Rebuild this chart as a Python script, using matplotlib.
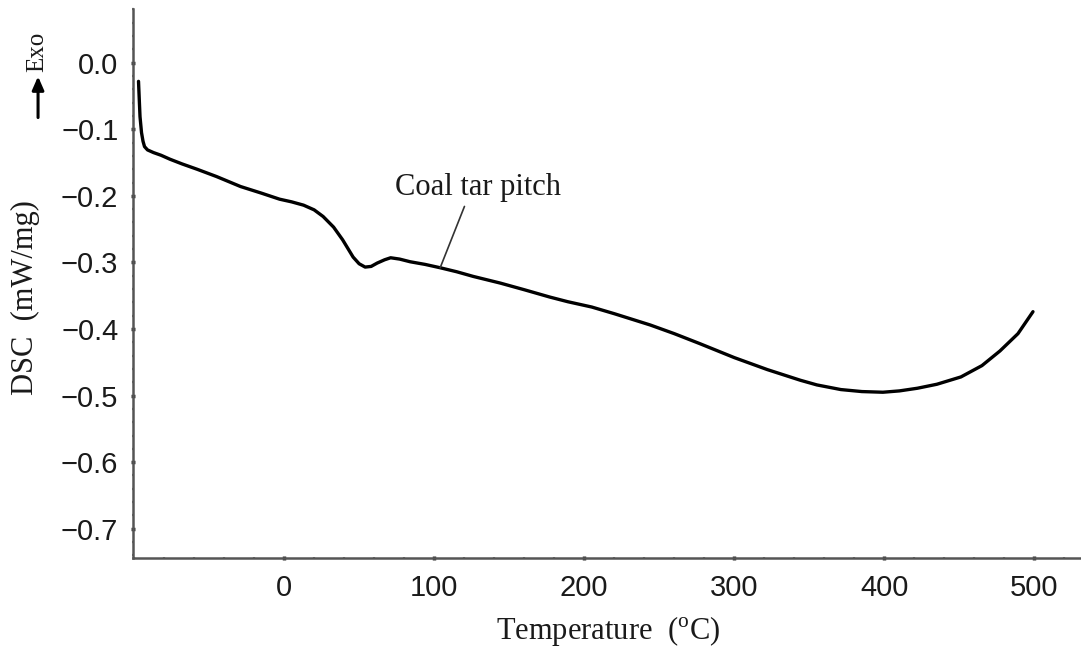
import numpy as np
import matplotlib
matplotlib.use('Agg')
import matplotlib.pyplot as plt
from matplotlib.ticker import MultipleLocator

# DSC trace of coal tar pitch
temperature = [-97, -96.5, -96, -95, -94, -93, -91, -87, -82, -76, -68, -58, -45, -29,
               -15, -3, 5, 13, 20, 26, 33, 39, 46, 50, 54, 58, 62, 67, 71, 77, 84, 94,
               104, 115, 126, 144, 160, 177, 189, 205, 220, 244, 260, 277, 300, 322,
               344, 355, 371, 385, 399, 410, 422, 435, 451, 465, 477, 489, 499]
dsc = [-0.028, -0.055, -0.081, -0.105, -0.118, -0.126, -0.131, -0.135, -0.139, -0.145,
       -0.152, -0.160, -0.171, -0.186, -0.196, -0.205, -0.209, -0.214, -0.221, -0.231,
       -0.247, -0.266, -0.292, -0.302, -0.307, -0.306, -0.301, -0.296, -0.293, -0.295,
       -0.299, -0.303, -0.308, -0.314, -0.321, -0.331, -0.341, -0.352, -0.359, -0.367,
       -0.377, -0.394, -0.407, -0.422, -0.443, -0.461, -0.477, -0.484, -0.491, -0.494,
       -0.495, -0.493, -0.489, -0.483, -0.472, -0.455, -0.433, -0.407, -0.374]

x_ticks = [0, 100, 200, 300, 400, 500]
y_ticks = [0.0, -0.1, -0.2, -0.3, -0.4, -0.5, -0.6, -0.7]

label_name = 'Coal tar pitch'
label_at = (104, -0.308)
label_text_pos = (129, -0.188)

plt.rcParams['mathtext.fontset'] = 'custom'
plt.rcParams['mathtext.rm'] = 'Liberation Serif'

fig = plt.figure(figsize=(10.81, 6.53), dpi=100)
ax = fig.add_axes([0.123, 0.1455, 0.877, 0.840])

ax.plot(temperature, dsc, color='black', lw=2.4, solid_capstyle='round')

ax.set_xlim(-100.7, 531)
ax.set_ylim(-0.744, 0.080)

ax.set_xticks(x_ticks)
ax.set_yticks(y_ticks)
ax.set_yticklabels([f'{v:.1f}'.replace('-', '\u2212') for v in y_ticks])
ax.xaxis.set_minor_locator(MultipleLocator(20))
ax.yaxis.set_minor_locator(MultipleLocator(0.02))

for side in ['top', 'right']:
    ax.spines[side].set_visible(False)
for side in ['left', 'bottom']:
    ax.spines[side].set_color('#555555')
    ax.spines[side].set_linewidth(1.8)

ax.tick_params(which='major', direction='inout', length=3, width=2.5, color='#333333')
ax.tick_params(which='minor', direction='inout', length=2, width=1.6, color='#777777')
ax.tick_params(axis='y', which='major', pad=9)
ax.tick_params(axis='x', which='major', pad=10)
for lbl in ax.get_xticklabels() + ax.get_yticklabels():
    lbl.set_fontfamily('Liberation Sans')
    lbl.set_fontsize(21)
    lbl.set_color('#1a1a1a')

# curve label with leader line
ax.annotate(label_name, xy=label_at, xytext=label_text_pos,
            ha='center', va='center', fontsize=22, family='Liberation Serif',
            color='#1a1a1a',
            arrowprops=dict(arrowstyle='-', color='#333333', lw=1.2,
                            relpos=(0.43, 0.0), shrinkA=1, shrinkB=0))

# axis titles
fig.text(0.5624, 0.034, r'Temperature  ($^{\rm o}$C)', ha='center', va='center',
         fontsize=22, family='Liberation Serif', color='#1a1a1a')
fig.text(0.024, 0.544, 'DSC  (mW/mg)', ha='center', va='center', rotation=90,
         fontsize=22, family='Liberation Serif', color='#1a1a1a')

# exotherm direction marker
fig.text(0.0345, 0.92, 'Exo', ha='center', va='center', rotation=90,
         fontsize=18, family='Liberation Serif', color='#1a1a1a')
ax.annotate('', xy=(0.0352, 0.883), xytext=(0.0352, 0.820),
            xycoords='figure fraction', textcoords='figure fraction',
            arrowprops=dict(arrowstyle='-|>,head_length=0.8,head_width=0.35',
                            color='black', lw=2.2, shrinkA=0, shrinkB=0))

fig.savefig('out.png', dpi=100)
